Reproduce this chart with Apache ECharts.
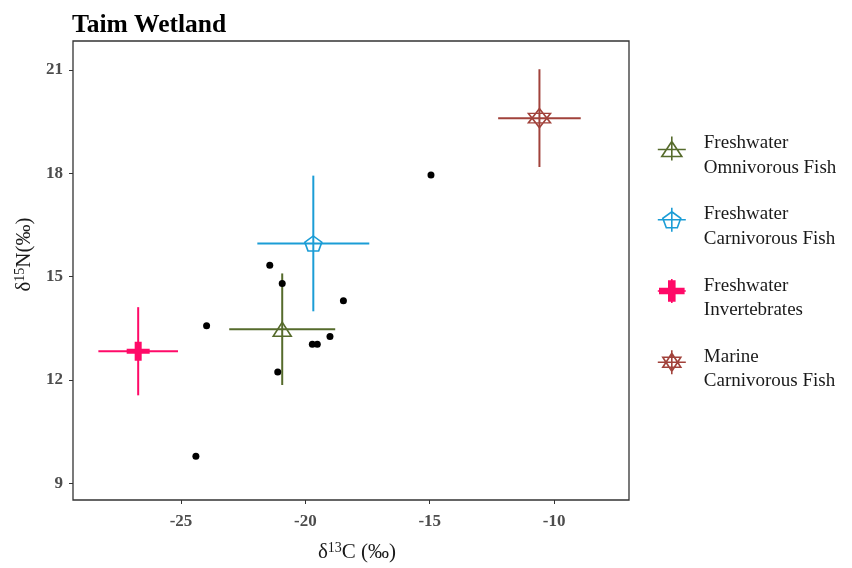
<!DOCTYPE html>
<html><head><meta charset="utf-8">
<script src="https://cdn.jsdelivr.net/npm/echarts@6/dist/echarts.min.js"></script>
<style>html,body{margin:0;padding:0;background:#fff}#c{width:852px;height:568px}</style>
</head><body><div id="c"></div>
<script>
// ---- data ----
const groups = ['Freshwater Omnivorous Fish', 'Freshwater Carnivorous Fish', 'Freshwater Invertebrates', 'Marine Carnivorous Fish'];
const meanC = [-20.93, -19.68, -26.72, -10.59];
const meanN = [13.47, 15.96, 12.83, 19.60];
const sdC = [2.13, 2.25, 1.60, 1.66];
const sdN = [1.62, 1.97, 1.28, 1.42];
const sampleC = [-21.43, -20.93, -18.47, -23.97, -19.72, -19.52, -19.01, -21.11, -24.40, -14.95];
const sampleN = [15.33, 14.80, 14.30, 13.57, 13.03, 13.03, 13.26, 12.23, 9.78, 17.95];
const xTicks = [-25, -20, -15, -10];
const yTicks = [9, 12, 15, 18, 21];

// ---- style ----
const colors = ['#566b2c', '#1b9dd6', '#ff0a68', '#a1423b'];
const SERIF = '"Liberation Serif", "DejaVu Serif", serif';
const markerPaths = [
  'path://M0,14 L9,0 L18,14 Z',
  'path://M8.5,0 L17,6.2 L13.8,15 L3.2,15 L0,6.2 Z',
  'path://M0,7 L23,7 L23,12 L0,12 Z M8,0 L15,0 L15,19 L8,19 Z',
  'path://M11,0 L20.5,14.25 L1.5,14.25 Z M11,19 L20.5,4.75 L1.5,4.75 Z'
];
const markerSizes = [[18, 14], [17, 15], [23, 19], [22, 19]];
const legendIcons = [
  'path://M14,0 L14,24 M0,13 L28,13 M4,20 L14,5 L24,20 Z',
  'path://M14,0 L14,24 M0,12 L28,12 M14,4 L23,10.5 L19.5,20 L8.5,20 L5,10.5 Z',
  'path://M14,0 L14,24 M0,12 L28,12 M2,9.5 L26,9.5 L26,14.5 L2,14.5 Z M11,2 L17,2 L17,22 L11,22 Z',
  'path://M14,0 L14,24 M0,12 L28,12 M14,3 L23,17 L5,17 Z M14,21 L23,7 L5,7 Z'
];

const chart = echarts.init(document.getElementById('c'), null, {renderer: 'canvas'});

const groupSeries = groups.map((g, i) => ({
  type: 'scatter',
  name: g,
  data: [[meanC[i], meanN[i]]],
  symbol: markerPaths[i],
  symbolSize: markerSizes[i],
  z: 3,
  itemStyle: i === 2
    ? {color: colors[i], borderWidth: 0, opacity: 1}
    : {color: 'rgba(0,0,0,0)', borderColor: colors[i], borderWidth: 1.6, opacity: 1},
  emphasis: {disabled: true}
}));

const nameRich = {
  a: {fontFamily: SERIF, fontSize: 21, color: '#1a1a1a', lineHeight: 23},
  s: {fontFamily: SERIF, fontSize: 14, color: '#1a1a1a', verticalAlign: 'top', lineHeight: 14}
};

const option = {
  animation: false,
  backgroundColor: '#fff',
  title: {
    text: 'Taim Wetland', left: 72, top: 12, padding: 0,
    textStyle: {fontFamily: SERIF, fontWeight: 'bold', fontSize: 25.5, color: '#000'}
  },
  grid: {left: 73, right: 223, top: 41, bottom: 68, show: true, borderColor: '#333', borderWidth: 1.3, backgroundColor: 'transparent'},
  xAxis: {
    type: 'value', min: -29.34, max: -6.99,
    axisLine: {show: false},
    splitLine: {show: false},
    axisTick: {show: true, length: 4, customValues: xTicks, lineStyle: {color: '#333'}},
    axisLabel: {customValues: xTicks, margin: 13, fontFamily: SERIF, fontWeight: 'bold', fontSize: 17, color: '#4d4d4d'},
    name: '{a|δ}{s|13}{a|C (‰)}', nameLocation: 'middle', nameGap: 41,
    nameTextStyle: {rich: nameRich, padding: [0, 0, 0, 12]}
  },
  yAxis: {
    type: 'value', min: 8.51, max: 21.84,
    axisLine: {show: false},
    splitLine: {show: false},
    axisTick: {show: true, length: 4, customValues: yTicks, lineStyle: {color: '#333'}},
    axisLabel: {customValues: yTicks, margin: 10, fontFamily: SERIF, fontWeight: 'bold', fontSize: 17, color: '#4d4d4d'},
    name: '{a|δ}{s|15}{a|N(‰)}', nameLocation: 'middle', nameGap: 37, nameRotate: 90,
    nameTextStyle: {rich: nameRich, padding: [0, 0, 0, 32]}
  },
  legend: {
    orient: 'vertical', left: 657, top: 122, padding: 0,
    itemWidth: 28, itemHeight: 24, itemGap: 16,
    selectedMode: false,
    data: groups.map((g, i) => ({
      name: g, icon: legendIcons[i],
      itemStyle: i === 2
        ? {color: colors[i], borderColor: colors[i], borderWidth: 1.6}
        : {color: 'rgba(0,0,0,0)', borderColor: colors[i], borderWidth: 1.6}
    })),
    formatter: n => '{e| }\n{t|' + n.replace(' ', '}\n{t|') + '}',
    textStyle: {
      fontFamily: SERIF, fontSize: 19, color: '#1a1a1a', padding: [0, 0, 0, 13],
      rich: {
        e: {fontSize: 4, lineHeight: 14},
        t: {fontFamily: SERIF, fontSize: 19, lineHeight: 24.5, color: '#1a1a1a'}
      }
    }
  },
  series: [
    {
      type: 'custom',
      name: 'errorbars',
      z: 2,
      data: groups.map((g, i) => [meanC[i], meanN[i], sdC[i], sdN[i], i]),
      encode: {x: 0, y: 1},
      renderItem: (params, api) => {
        const mx = api.value(0), my = api.value(1), sx = api.value(2), sy = api.value(3);
        const c = colors[api.value(4)];
        const l = api.coord([mx - sx, my]), r = api.coord([mx + sx, my]);
        const t = api.coord([mx, my + sy]), b = api.coord([mx, my - sy]);
        return {type: 'group', children: [
          {type: 'line', shape: {x1: l[0], y1: l[1], x2: r[0], y2: r[1]}, style: {stroke: c, lineWidth: 2}},
          {type: 'line', shape: {x1: t[0], y1: t[1], x2: b[0], y2: b[1]}, style: {stroke: c, lineWidth: 2}}
        ]};
      }
    },
    ...groupSeries,
    {
      type: 'scatter', name: 'samples', z: 4,
      data: sampleC.map((c, i) => [c, sampleN[i]]),
      symbol: 'circle', symbolSize: 7,
      itemStyle: {color: '#000', opacity: 1}
    }
  ]
};
chart.setOption(option);
</script>
</body></html>
